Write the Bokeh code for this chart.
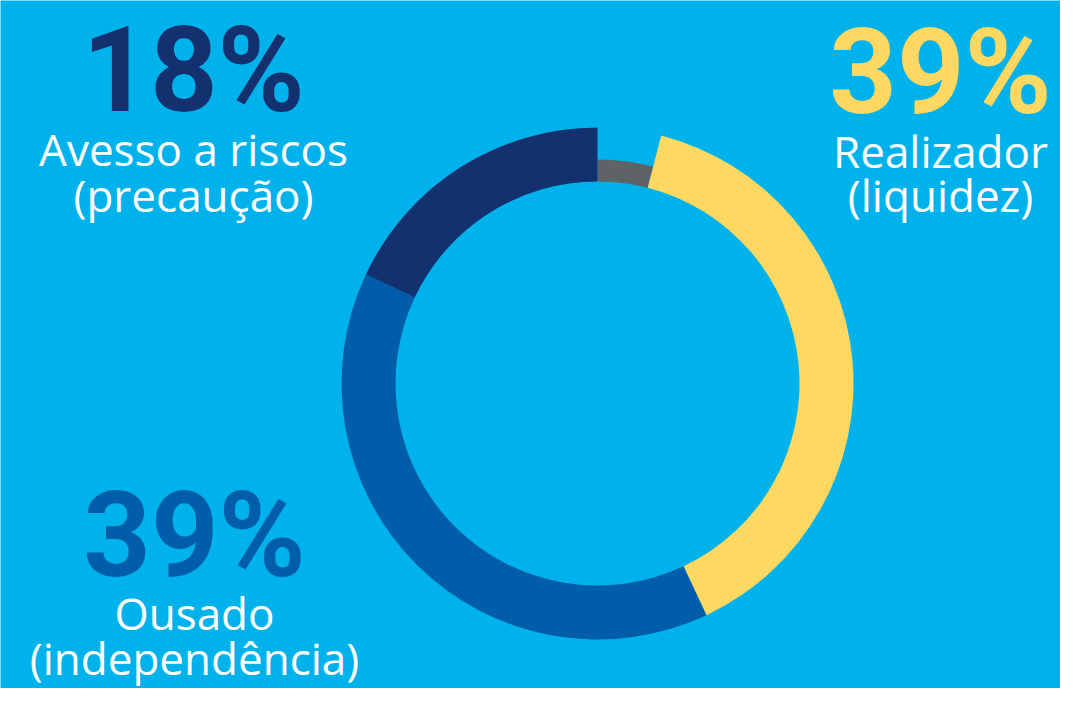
import math
from bokeh.plotting import figure
from bokeh.models import Range1d, ColumnDataSource
from bokeh.core.properties import value
from bokeh.embed import file_html
from bokeh.resources import INLINE

# ---- data ----
segments = ["Outros", "Realizador (liquidez)", "Ousado (independência)", "Avesso a riscos (precaução)"]
shares = [4, 39, 39, 18]
seg_colors = ["#5E6366", "#FFD862", "#005DAA", "#13306F"]

big_labels = ["18%", "39%", "39%"]
name_line1 = ["Avesso a riscos", "Realizador", "Ousado"]
name_line2 = ["(precaução)", "(liquidez)", "(independência)"]
label_colors = ["#13306F", "#FFD862", "#005DAA"]

# ---- style / layout ----
BG = "#00B2EB"
W, H = 1060, 688

p = figure(width=W, height=H, output_backend="svg", toolbar_location=None,
           x_range=Range1d(0, W), y_range=Range1d(0, H), min_border=0)
p.axis.visible = False
p.grid.visible = False
p.outline_line_color = None
p.background_fill_color = BG
p.border_fill_color = BG

BIG, SMALL = 118, 44
K = 0.38  # baseline compensation (fraction of font size)

def ty(baseline, size):
    return H - (baseline - K * size)

cx, cy = 597, H - 383
inner_r = 202
outer_r = [224, 256, 256, 256]

total = sum(shares)
starts, ends = [], []
cum = 0
for s in shares:
    starts.append(math.radians(90 - cum / total * 360))
    cum += s
    ends.append(math.radians(90 - cum / total * 360))

src = ColumnDataSource(dict(x=[cx] * len(shares), y=[cy] * len(shares),
                            start=starts, end=ends, outer=outer_r,
                            color=seg_colors, name=segments))
p.annular_wedge(x="x", y="y", inner_radius=inner_r, outer_radius="outer",
                start_angle="start", end_angle="end", direction="clock",
                fill_color="color", line_color=None, source=src)

# label positions (screen coords)
pos_x = [193, 940, 194]
big_base = [115, 117, 580]
l1_base = [165, 167, 629]
l2_base = [211, 211, 674]

p.text(x=pos_x, y=[ty(v, BIG) for v in big_base], text=big_labels,
       text_color=label_colors, text_font=value("Roboto"), text_font_size=value(f"{BIG}px"),
       text_font_style="bold", text_align="center", text_baseline="alphabetic")
p.text(x=pos_x, y=[ty(v, SMALL) for v in l1_base], text=name_line1,
       text_color="white", text_font=value("Open Sans"), text_font_size=value(f"{SMALL}px"),
       text_align="center", text_baseline="alphabetic")
p.text(x=pos_x, y=[ty(v, SMALL) for v in l2_base], text=name_line2,
       text_color="white", text_font=value("Open Sans"), text_font_size=value(f"{SMALL}px"),
       text_align="center", text_baseline="alphabetic")

open("out.html", "w").write(file_html(p, INLINE))
